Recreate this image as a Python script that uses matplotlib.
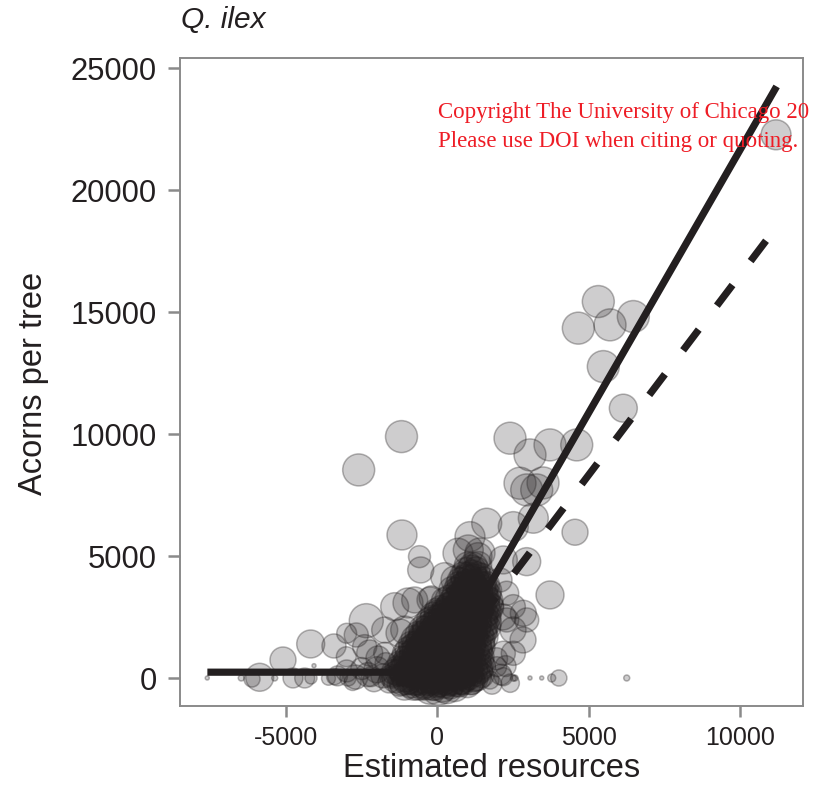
import numpy as np
import matplotlib
matplotlib.use("Agg")
import matplotlib.pyplot as plt

plt.rcParams["font.family"] = ["Liberation Sans", "DejaVu Sans"]
plt.rcParams["lines.scale_dashes"] = False
plt.rcParams["axes.unicode_minus"] = False

# scattered trees away from the main cloud
out_res = [11181, 5311, 4651, 5698, 6467, 5476, 6137, 2395, 3055, 3716,
           4598, -1189, -2603, 2725, 3485, 3277, 2946, 1625, 1073, 2504,
           3164, 4542, -1173, -595, -555, 1017, 1404, 2946, 3716, 578,
           -974, -753, -248, -1239, 2494, 2824, 2163, 4007, 6249, 3055,
           3442, 3772, 2560, -2352, -4188, -5103, -5873, -6127, -6481, -7604,
           -5377, -4773, -4386, -4178, -4079, -3419, -2682, -3012, -2956, -2239,
           -1965, -1083, -205, -3396, -2187, -1526, 2174, -2999, 2285, 2174,
           1955, 2174, 1734, 2504, 2834, 2504, 677, 1338, 238, -1414,
           -1744, -2405, -1744, 2504, 2946, 2285, 2064, -3300, -3000, -2700,
           -2500, -2300, -2100, -2000, -1800, -1700, -1600, -3600, -2800, 1800,
           2100, 2400, 1950, 2250]
out_acorns = [22264, 15433, 14343, 14478, 14819, 12769, 11065, 9835, 9151, 9561,
              9561, 9901, 8536, 7991, 8003, 7717, 7717, 6352, 5803, 6213,
              6557, 5983, 5872, 4983, 4438, 5258, 5135, 4778, 3414, 4028,
              3086, 3209, 3209, 1856, 1979, 1570, 2512, 12, 12, 12,
              12, 12, 12, 2360, 1406, 750, 41, -29, 12, 12,
              12, 12, 12, 12, 516, 1324, 1774, 885, 12, 1037,
              832, 1979, 3291, 66, 66, 66, 4848, 1844, 2389, 1025,
              475, 66, -70, 0, 2664, 1025, 5123, 4983, 4164, 2934,
              1979, 1295, 1025, 2934, 2389, 3483, 4028, 100, 300, 50,
              400, 150, -100, 350, 100, 600, -150, 0, -150, -250,
              150, -200, 800, 500]
out_wt = [93, 106, 106, 106, 106, 106, 81, 106, 106, 106,
          106, 106, 106, 106, 106, 106, 106, 93, 93, 93,
          93, 70, 93, 50, 70, 93, 93, 81, 81, 81,
          93, 70, 70, 81, 70, 70, 70, 27, 3.7, 1.7,
          1.7, 6.6, 3.7, 120, 81, 70, 81, 27, 3.7, 1.7,
          3.7, 41, 41, 15, 1.7, 60, 60, 41, 27, 70,
          60, 81, 60, 27, 41, 41, 81, 41, 60, 60,
          41, 34, 34, 3.7, 70, 60, 93, 81, 81, 81,
          70, 60, 50, 60, 60, 60, 60, 41, 50, 60,
          50, 60, 50, 70, 60, 50, 50, 20, 30, 40,
          45, 35, 50, 45]

# dense cloud of trees around zero resources, one line per band of acorn counts
core_res = [
    -1250, -1090, -940, -790, -650, -510, -370, -240, -100, 30, 160, 300, 430, 570, 710, 850,
    -1170, -1010, -860, -720, -580, -440, -300, -170, -30, 100, 230, 370, 500, 640, 780, 950,
    -1520, -1370, -1210, -1060, -920, -770, -620, -490, -340, -200, -70, 70, 200, 340, 480, 610, 750, 890, 1040, 1190,
    -1440, -1290, -1130, -990, -840, -690, -550, -410, -270, -130, 0, 140, 270, 410, 550, 680, 820, 970, 1120,
    -1330, -1180, -1030, -880, -740, -600, -460, -320, -180, -40, 100, 240, 380, 520, 660, 800, 940, 1090, 1240,
    -1250, -1100, -950, -810, -670, -530, -390, -250, -110, 30, 170, 310, 450, 590, 730, 870, 1020, 1170,
    -1150, -990, -840, -700, -560, -420, -280, -140, 0, 140, 280, 420, 560, 700, 850, 1000, 1160,
    -1070, -910, -770, -630, -490, -350, -210, -70, 70, 210, 350, 490, 630, 780, 930, 1090,
    -980, -830, -680, -540, -400, -260, -120, 20, 160, 300, 440, 580, 720, 870, 1020, 1180,
    -870, -720, -580, -440, -300, -160, -20, 120, 260, 400, 540, 690, 840, 990, 1150,
    -760, -610, -470, -330, -190, -50, 90, 230, 370, 510, 650, 800, 950, 1100, 1260,
    -640, -500, -360, -220, -80, 60, 200, 340, 480, 620, 770, 920, 1070, 1220,
    -520, -380, -240, -100, 40, 180, 320, 460, 600, 740, 890, 1040, 1190, 1340,
    -400, -250, -110, 30, 170, 310, 450, 600, 750, 900, 1050, 1200, 1360,
    -280, -130, 10, 160, 300, 440, 590, 730, 880, 1030, 1180, 1340,
    -150, 0, 150, 300, 450, 600, 750, 900, 1050, 1200, 1360,
    -30, 120, 260, 410, 560, 700, 850, 1000, 1150, 1300, 1450,
    230, 380, 530, 680, 830, 980, 1130, 1280, 1430,
    480, 640, 790, 940, 1090, 1240, 1390,
    760, 920, 1070, 1220, 1370,
    950, 1120, 1280,
]
core_acorns = [
    -220, -300, -180, -330, -250, -360, -280, -400, -320, -420, -350, -390, -300, -340, -260, -200,
    -150, -90, -200, -120, -60, -170, -110, -210, -140, -80, -190, -130, -60, -160, -100, -40,
    80, -20, 150, 40, 180, -40, 110, 20, 200, 60, -10, 130, 30, 170, -30, 90, 10, 140, 60, -80,
    260, 220, 300, 240, 310, 200, 280, 330, 230, 290, 250, 320, 210, 270, 300, 240, 330, 260, 220,
    420, 360, 480, 390, 450, 330, 500, 420, 370, 470, 400, 520, 350, 460, 410, 380, 490, 430, 350,
    620, 570, 650, 590, 640, 560, 660, 610, 580, 650, 600, 670, 560, 630, 600, 650, 580, 620,
    820, 760, 880, 790, 850, 740, 900, 820, 770, 860, 800, 880, 750, 840, 910, 790, 860,
    1010, 960, 1050, 990, 1040, 970, 1060, 1000, 980, 1050, 990, 1040, 960, 1020, 1060, 980,
    1180, 1250, 1150, 1230, 1280, 1170, 1240, 1300, 1190, 1260, 1150, 1290, 1210, 1250, 1180, 1300,
    1400, 1350, 1430, 1380, 1440, 1360, 1420, 1460, 1370, 1430, 1390, 1450, 1380, 1420, 1370,
    1620, 1560, 1680, 1600, 1650, 1580, 1700, 1610, 1660, 1570, 1690, 1630, 1580, 1700, 1640,
    1800, 1770, 1850, 1790, 1830, 1860, 1780, 1840, 1810, 1870, 1790, 1850, 1820, 1780,
    2020, 1980, 2080, 1960, 2050, 2100, 1990, 2060, 2020, 2110, 1970, 2080, 2030, 1990,
    2200, 2250, 2180, 2240, 2210, 2270, 2190, 2260, 2220, 2280, 2200, 2250, 2190,
    2380, 2450, 2400, 2480, 2360, 2440, 2500, 2390, 2460, 2420, 2510, 2380,
    2600, 2650, 2580, 2660, 2620, 2680, 2590, 2640, 2700, 2610, 2660,
    2780, 2850, 2760, 2900, 2820, 2880, 2790, 2860, 2930, 2800, 2870,
    3180, 3250, 3150, 3300, 3220, 3280, 3190, 3320, 3240,
    3620, 3560, 3680, 3600, 3700, 3640, 3580,
    3980, 4060, 4020, 4100, 3960,
    4380, 4450, 4420,
]
core_wt = [
    45, 60, 38, 55, 70, 48, 62, 75, 58, 80, 66, 72, 50, 64, 44, 40,
    50, 58, 62, 55, 68, 72, 60, 80, 70, 76, 66, 60, 72, 58, 52, 42,
    40, 55, 35, 60, 50, 72, 45, 68, 58, 80, 75, 62, 85, 70, 66, 60, 74, 52, 48, 40,
    44, 50, 56, 60, 64, 70, 62, 76, 68, 82, 74, 70, 78, 66, 60, 64, 56, 50, 46,
    42, 50, 60, 45, 70, 55, 64, 78, 60, 72, 84, 66, 75, 58, 70, 62, 55, 48, 44,
    42, 52, 58, 60, 66, 62, 74, 70, 80, 76, 72, 66, 70, 64, 60, 56, 50, 46,
    40, 55, 48, 62, 58, 70, 66, 80, 74, 68, 82, 60, 72, 66, 58, 52, 46,
    46, 52, 60, 64, 60, 72, 68, 78, 74, 70, 80, 66, 70, 62, 56, 48,
    45, 52, 60, 58, 66, 70, 64, 78, 72, 60, 80, 68, 62, 55, 50, 44,
    46, 54, 58, 64, 68, 62, 74, 70, 78, 66, 72, 64, 58, 54, 48,
    50, 45, 62, 58, 70, 66, 74, 60, 80, 68, 62, 72, 58, 52, 46,
    48, 54, 60, 62, 70, 66, 74, 68, 72, 64, 66, 60, 54, 48,
    48, 56, 60, 66, 58, 72, 64, 78, 70, 62, 74, 60, 52, 44,
    46, 52, 58, 64, 60, 70, 66, 72, 64, 68, 60, 54, 48,
    46, 52, 60, 58, 66, 72, 64, 70, 62, 68, 56, 50,
    44, 52, 56, 62, 60, 68, 64, 66, 60, 58, 50,
    42, 50, 56, 62, 58, 70, 66, 60, 64, 54, 46,
    48, 54, 60, 58, 66, 62, 70, 56, 50,
    50, 56, 62, 66, 60, 58, 48,
    52, 58, 62, 56, 50,
    54, 60, 52,
]

# upper and right-hand fringe of the cloud
rim_res = [
    990, 1120, 1100, 1250, 1330, 1460, 1270, 1400, 1380, 1500, 1310, 1450,
    1300, 1440, 1240, 1390, 1330, 1470, 1300, 1450, 1410, 1550, 1370, 1520,
    1490, 1630, 1510, 1660, 1490, 1640, 1510, 1660, 1600, 1750,
    400, 550, 700, 850, 1000, 1150, 1300, 1450, 1600, 1750,
    1580, 1730,
    600, 760, 910, 1060, 1210, 1360, 1510, 1660,
    1540, 1690,
    700, 860, 1010, 1160, 1310, 1460, 1610,
    1520,
    850, 1000, 1150, 1300, 1450,
    1000, 1180, 1350,
]
rim_acorns = [
    -250, -180, -100, -20, 50, 120, 250, 310, 420, 480, 600, 660,
    820, 880, 1000, 1060, 1230, 1290, 1400, 1460, 1630, 1690, 1800, 1860,
    2030, 2090, 2230, 2290, 2430, 2490, 2640, 2700, 2850, 2910,
    3000, 3060, 2980, 3040, 3090, 2990, 3050, 3010, 3070, 2970,
    3260, 3200,
    3420, 3380, 3450, 3400, 3470, 3390, 3440, 3410,
    3650, 3590,
    3820, 3780, 3850, 3800, 3860, 3790, 3830,
    4010,
    4220, 4180, 4250, 4200, 4170,
    4620, 4580, 4650,
]
rim_wt = [
    50, 40, 55, 44, 52, 42, 56, 46, 54, 44, 58, 46,
    56, 48, 60, 50, 58, 48, 60, 50, 62, 52, 60, 50,
    62, 54, 64, 52, 62, 54, 64, 52, 60, 50,
    50, 56, 62, 60, 68, 64, 70, 62, 56, 48,
    56, 48,
    52, 58, 62, 66, 60, 64, 58, 50,
    54, 48,
    50, 56, 62, 64, 60, 56, 50,
    52,
    50, 56, 60, 56, 50,
    52, 58, 50,
]

# broken-stick fits: plateau below the breakpoint, then linear
plateau = 250
breakpoint = 60
slope_solid = 2.154
slope_dashed = 1.638
solid_range = (-7600, 11200)
dashed_range = (60, 10850)

ink = (0.137, 0.122, 0.125)

fig = plt.figure(figsize=(8.13, 7.99), dpi=100)
ax = fig.add_axes([180 / 813, 1 - 706 / 799, 623 / 813, 648 / 799])

# the packed cloud gets slightly larger discs so it fills in solid
res = np.array(out_res + core_res + rim_res, dtype=float)
acorns = np.array(out_acorns + core_acorns + rim_acorns, dtype=float)
wt = np.array(out_wt + [w * 1.45 for w in core_wt + rim_wt], dtype=float)
ax.scatter(res, acorns, s=wt * 5, facecolor=(*ink, 0.22),
           edgecolor=(*ink, 0.33), linewidths=1.1, zorder=2)


def fit(x, slope):
    return np.where(x < breakpoint, plateau, plateau + slope * (x - breakpoint))


xs = np.array([solid_range[0], breakpoint, solid_range[1]], dtype=float)
ax.plot(xs, fit(xs, slope_solid), color=ink, lw=5.2, solid_capstyle="butt", zorder=3)
xd = np.array(dashed_range, dtype=float)
ax.plot(xd, fit(xd, slope_dashed), color=ink, lw=5.2,
        linestyle=(31.7, (18.7, 21.6)), dash_capstyle="butt", zorder=3)

ax.set_xlim(-8504, 12071)
ax.set_ylim(-1135, 25410)
ax.set_xticks([-5000, 0, 5000, 10000])
ax.set_yticks([0, 5000, 10000, 15000, 20000, 25000])

spine_grey = "#8a8a8a"
for sp in ax.spines.values():
    sp.set_color(spine_grey)
    sp.set_linewidth(1.4)
ax.tick_params(axis="both", colors=spine_grey, width=1.8, labelcolor="#231f20")
ax.tick_params(axis="x", length=8, pad=6.5, labelsize=18)
ax.tick_params(axis="y", length=8.5, pad=8, labelsize=22.3)

ax.set_xlabel("Estimated resources", fontsize=23.5, color="#231f20", va="baseline")
ax.xaxis.set_label_coords(0.5, (706 - 777) / 648)
ax.set_ylabel("Acorns per tree", fontsize=23.5, color="#231f20", va="baseline")
ax.yaxis.set_label_coords((42 - 180) / 623, 0.4985)

fig.text(181 / 813, 1 - 28 / 799, "Q. ilex", fontsize=21.5, style="italic",
         color="#231f20", va="baseline", ha="left")

red = "#ee1c25"
fig.text(438 / 813, 1 - 118 / 799, "Copyright The University of Chicago 20",
         family="Liberation Serif", fontsize=16.5, color=red, va="baseline", zorder=10)
fig.text(438 / 813, 1 - 147 / 799, "Please use DOI when citing or quoting.",
         family="Liberation Serif", fontsize=16.5, color=red, va="baseline", zorder=10)

fig.savefig("out.png", dpi=100)
